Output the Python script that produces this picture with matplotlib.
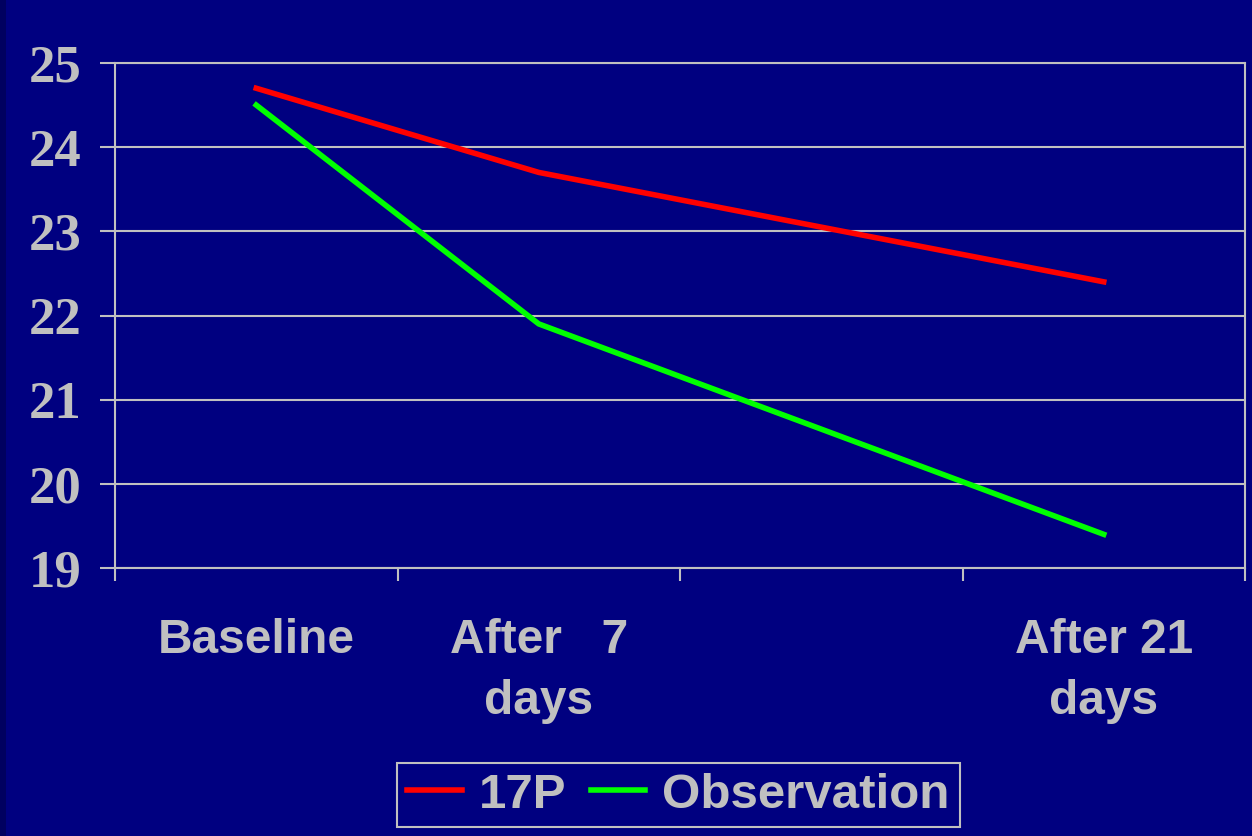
import matplotlib.pyplot as plt
from matplotlib.patches import Rectangle

# categories (third slot has no label and no data)
categories = ["Baseline", "After   7\ndays", "", "After 21\ndays"]
point_idx = [0, 1, 3]
p17_values = [24.7, 23.7, 22.4]
obs_values = [24.5, 21.9, 19.4]
y_ticks = [19, 20, 21, 22, 23, 24, 25]

BG = "#000080"
GREY = "#C0C0C0"


def plot_chart():
    fig = plt.figure(figsize=(12.52, 8.36), dpi=100, facecolor=BG)
    fig.patches.append(Rectangle((0, 0), 6 / 1252, 1, transform=fig.transFigure,
                                 facecolor="#000060", edgecolor="none", zorder=0))
    ax = fig.add_axes([115 / 1252, 1 - 568 / 836, 1130 / 1252, 505 / 836])
    ax.set_facecolor(BG)

    ax.plot(point_idx, p17_values, color="#FF0000", lw=4, label="17P", zorder=3)
    ax.plot(point_idx, obs_values, color="#00FF00", lw=4, label="Observation", zorder=3)

    ax.set_xlim(-0.5, len(categories) - 0.5)
    ax.set_ylim(19, 25)

    # category boundaries as major ticks, labels on minor ticks
    ax.set_xticks([i - 0.5 for i in range(len(categories) + 1)])
    ax.set_xticklabels([])
    ax.set_xticks(range(len(categories)), minor=True)
    ax.set_xticklabels(categories, minor=True, fontsize=34.5, fontweight="bold",
                       color=GREY, family="Liberation Sans", linespacing=1.45)
    ax.tick_params(axis="x", which="major", length=9, width=1.5, color=GREY, direction="out")
    ax.tick_params(axis="x", which="minor", length=0, pad=36)

    ax.set_yticks(y_ticks)
    ax.set_yticklabels([str(v) for v in y_ticks], fontsize=38, fontweight="bold",
                       color=GREY, family="Liberation Serif")
    ax.tick_params(axis="y", length=11, width=1.5, color=GREY, pad=13)

    ax.grid(axis="y", color=GREY, lw=1.5)
    for s in ax.spines.values():
        s.set_color(GREY)
        s.set_linewidth(1.5)

    leg = fig.legend(loc="center", bbox_to_anchor=(0.542, 0.049), ncol=2,
                     frameon=True, fancybox=False, facecolor=BG, edgecolor=GREY,
                     framealpha=1, handlelength=1.1, handletextpad=0.35,
                     columnspacing=0.5, borderpad=0.2,
                     prop={"family": "Liberation Sans", "weight": "bold", "size": 35.5})
    leg.get_frame().set_linewidth(1.5)
    for t in leg.get_texts():
        t.set_color(GREY)

    fig.savefig("out.png", dpi=100, facecolor=BG)


def main():
    plot_chart()


if __name__ == "__main__":
    main()
